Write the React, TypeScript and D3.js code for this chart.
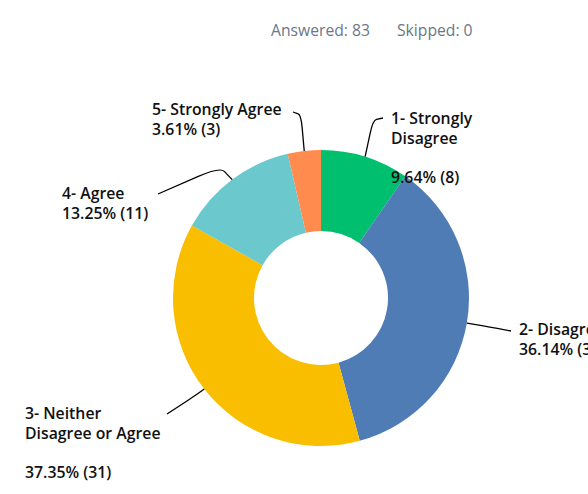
import React, { useEffect, useRef } from "react";
import * as d3 from "d3";

// survey answers, clockwise from the top
const categories = [
  "1- Strongly Disagree",
  "2- Disagree",
  "3- Neither Disagree or Agree",
  "4- Agree",
  "5- Strongly Agree",
];
const counts = [8, 30, 31, 11, 3];
const percents = ["9.64%", "36.14%", "37.35%", "13.25%", "3.61%"];
const colors = ["#00bf6f", "#507cb6", "#f9be00", "#6bc8cd", "#ff8b4f"];
const answered = 83;
const skipped = 0;

// how each label is broken into lines ("" = blank line)
const labelLines = [
  ["1- Strongly", "Disagree", "", "{pct}"],
  ["2- Disagree", "{pct}"],
  ["3- Neither", "Disagree or Agree", "", "{pct}"],
  ["4- Agree", "{pct}"],
  ["5- Strongly Agree", "{pct}"],
];
// label anchor (x, first baseline) and leader line corner/end
const labelPos = [
  { x: 391, y: 124, corner: [373, 120], end: [383, 118] },
  { x: 519, y: 335, corner: [490, 327], end: [511, 331] },
  { x: 25, y: 419, corner: [193, 397], end: [167, 414] },
  { x: 62, y: 199, corner: [220, 167], end: [158, 194] },
  { x: 152, y: 115, corner: [301, 115], end: [293, 112] },
];

export default function App() {
  const ref = useRef<SVGSVGElement>(null);

  useEffect(() => {
    const svg = d3.select(ref.current);
    svg.selectAll("*").remove();

    const cx = 321, cy = 298;
    const outer = 148, inner = 67;

    svg.append("text")
      .attr("x", 271)
      .attr("y", 36)
      .style("font-family", "'Open Sans', sans-serif")
      .style("font-size", "15.7px")
      .style("fill", "#6b7787")
      .text(`Answered: ${answered}`);
    svg.append("text")
      .attr("x", 397)
      .attr("y", 36)
      .style("font-family", "'Open Sans', sans-serif")
      .style("font-size", "15.7px")
      .style("fill", "#6b7787")
      .text(`Skipped: ${skipped}`);

    const pie = d3.pie<number>().sort(null).value(d => d);
    const arcs = pie(counts);
    const arc = d3.arc<d3.PieArcDatum<number>>()
      .innerRadius(inner)
      .outerRadius(outer);

    const g = svg.append("g").attr("transform", `translate(${cx},${cy})`);
    g.selectAll("path.slice")
      .data(arcs)
      .enter()
      .append("path")
      .attr("class", "slice")
      .attr("d", arc)
      .style("fill", (d, i) => colors[i]);

    // leader lines from the middle of each slice's outer edge
    arcs.forEach((a, i) => {
      const mid = (a.startAngle + a.endAngle) / 2;
      const sx = cx + Math.sin(mid) * outer;
      const sy = cy - Math.cos(mid) * outer;
      const p = labelPos[i];
      const [kx, ky] = p.corner;
      const [ex, ey] = p.end;
      const path = d3.path();
      path.moveTo(sx, sy);
      // straight toward the corner, rounded over it, then to the label
      const t = 0.65;
      path.lineTo(sx + (kx - sx) * t, sy + (ky - sy) * t);
      path.quadraticCurveTo(kx, ky, kx + (ex - kx) * (1 - t), ky + (ey - ky) * (1 - t));
      path.lineTo(ex, ey);
      svg.append("path")
        .attr("d", path.toString())
        .style("fill", "none")
        .style("stroke", "#000")
        .style("stroke-width", 1.3);
    });

    categories.forEach((c, i) => {
      const p = labelPos[i];
      const text = svg.append("text")
        .style("font-family", "'Open Sans', sans-serif")
        .style("font-weight", 600)
        .style("font-size", "15.8px")
        .style("fill", "#111");
      labelLines[i].forEach((line, j) => {
        if (line === "") return;
        text.append("tspan")
          .attr("x", p.x)
          .attr("y", p.y + j * 19.5)
          .text(line.replace("{pct}", `${percents[i]} (${counts[i]})`));
      });
    });
  }, []);

  return (
    <svg
      ref={ref}
      width={588}
      height={494}
      style={{ position: "absolute", left: 0, top: 0, background: "#fff" }}
    />
  );
}
